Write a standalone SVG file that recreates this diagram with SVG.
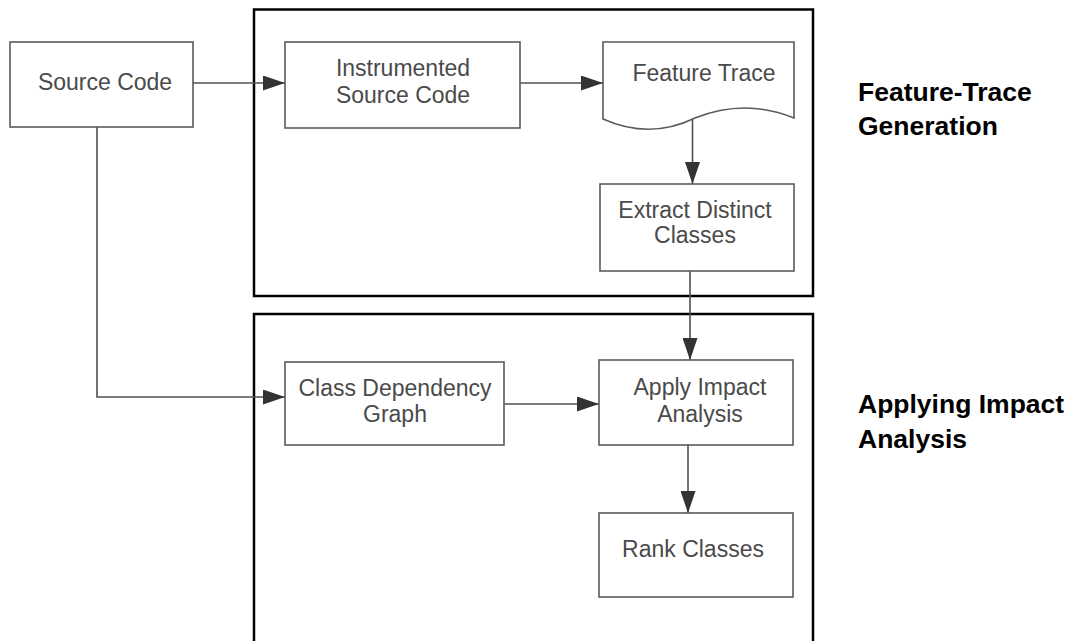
<svg xmlns="http://www.w3.org/2000/svg" width="1069" height="641" viewBox="0 0 1069 641">
<defs>
<style>
.container{fill:none;stroke:#000;stroke-width:2.5}
.box{fill:#fff;stroke:#5a5a5a;stroke-width:1.6}
.lbl{font-family:"Liberation Sans",Arial,sans-serif;font-size:23px;fill:#4a4a4a;text-anchor:middle}
.side{font-family:"Liberation Sans",Arial,sans-serif;font-size:26.5px;font-weight:bold;fill:#000}
.conn{fill:none;stroke:#505050;stroke-width:1.6}
</style>
<marker id="arr" markerUnits="userSpaceOnUse" markerWidth="22" markerHeight="15" refX="22" refY="7.5" orient="auto">
<path d="M0,0 L22,7.5 L0,15 z" fill="#333"/>
</marker>
</defs>
<rect width="1069" height="641" fill="#fff"/>
<g id="group-feature-trace">
<rect class="container" x="254" y="9.5" width="559" height="286.5"/>
</g>
<g id="group-impact-analysis">
<rect class="container" x="254" y="314" width="559" height="360"/>
</g>
<g id="connectors">
<path class="conn" d="M193,83 H285" marker-end="url(#arr)"/>
<path class="conn" d="M520,83 H603" marker-end="url(#arr)"/>
<path class="conn" d="M692.5,119 V184" marker-end="url(#arr)"/>
<path class="conn" d="M690,271 V360" marker-end="url(#arr)"/>
<path class="conn" d="M97,127 V397 H285" marker-end="url(#arr)"/>
<path class="conn" d="M504,404 H599" marker-end="url(#arr)"/>
<path class="conn" d="M688,445 V513" marker-end="url(#arr)"/>
</g>
<g id="node-source-code">
<rect class="box" x="10" y="42" width="183" height="85"/>
<text class="lbl" x="105" y="90">Source Code</text>
</g>
<g id="node-instrumented">
<rect class="box" x="285" y="42" width="235" height="86"/>
<text class="lbl" x="403" y="76">Instrumented</text>
<text class="lbl" x="403" y="103">Source Code</text>
</g>
<g id="node-feature-trace">
<path class="box" d="M603,42 H794 V118 Q745,98 695,118 Q650,140 603,119 Z"/>
<text class="lbl" x="704" y="81">Feature Trace</text>
</g>
<g id="node-extract">
<rect class="box" x="600" y="184" width="194" height="87"/>
<text class="lbl" x="695" y="218">Extract Distinct</text>
<text class="lbl" x="695" y="243">Classes</text>
</g>
<g id="node-class-dependency">
<rect class="box" x="285" y="362" width="219" height="83"/>
<text class="lbl" x="395" y="396">Class Dependency</text>
<text class="lbl" x="395" y="422">Graph</text>
</g>
<g id="node-apply">
<rect class="box" x="599" y="360" width="194" height="85"/>
<text class="lbl" x="700" y="395">Apply Impact</text>
<text class="lbl" x="700" y="422">Analysis</text>
</g>
<g id="node-rank">
<rect class="box" x="599" y="513" width="194" height="84"/>
<text class="lbl" x="693" y="557">Rank Classes</text>
</g>
<g id="label-feature-trace">
<text class="side" x="858" y="101">Feature-Trace</text>
<text class="side" x="858" y="135">Generation</text>
</g>
<g id="label-impact-analysis">
<text class="side" x="858" y="413">Applying Impact</text>
<text class="side" x="858" y="448">Analysis</text>
</g>
</svg>
